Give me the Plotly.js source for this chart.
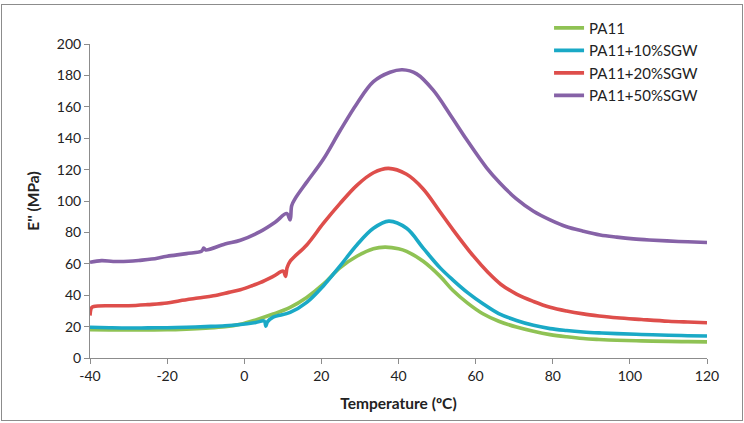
<!DOCTYPE html>
<html>
<head>
<meta charset="utf-8">
<script src="https://cdn.plot.ly/plotly-3.0.1.min.js"></script>
<style>
html,body{margin:0;padding:0;background:#fff;}
#chart{width:744px;height:423px;}
#frame{position:absolute;left:1px;top:4px;width:740px;height:415px;border:1px solid #8c8c8c;pointer-events:none;}
</style>
</head>
<body>
<div id="chart"></div>
<div id="frame"></div>
<script>
// Temperature (°C) and loss modulus E'' (MPa)
const seriesNames = ["PA11", "PA11+10%SGW", "PA11+20%SGW", "PA11+50%SGW"];

const tPA11 = [-40,-35,-30,-25,-20,-15,-10,-5,-1,3,7.5,11.9,16.2,20.5,24.8,29.2,33.5,36.5,40,42.1,46.4,50.8,54.2,58,62,66,70.6,75,79.3,83.6,87.9,92,96.6,103,110,115,120];
const ePA11 = [18,17.9,17.8,17.9,18,18.4,19,19.9,21.5,24.3,28,32.3,38.6,47,57.4,64.8,69.6,70.6,69.6,67.9,61.6,52,42.8,34.8,28,23.4,19.7,17,14.9,13.5,12.4,11.8,11.3,10.9,10.6,10.4,10.3];

const t10 = [-40,-35,-30,-25,-20,-15,-10,-5,-1,3,5.2,5.6,6.0,7.5,11.9,16.2,20.5,24.8,29.2,33.5,37.5,42.1,46.4,50.8,54.2,58,62,66,70.6,75,79.3,83.6,87.9,92,96.6,103,110,115,120];
const e10 = [19.6,19.3,19.1,19.2,19.3,19.6,20,20.5,21.3,22.6,23.5,20.3,23,26,29,35.4,45.9,58.5,72,82.6,87.2,82.6,70,57.4,49.5,41.5,34.4,28.3,23.9,20.8,18.7,17.5,16.6,16,15.5,15,14.5,14.2,14];

const t20 = [-40,-39.6,-39,-35,-30,-25,-20,-16.7,-12,-8,-4,-1,2,4.1,7.5,10.1,10.7,11.1,11.9,16.2,20.5,24.8,29.2,33.5,37.4,42.1,46.4,50.8,54.2,59.4,63.3,66.5,70.6,75,79.3,83.6,87.9,92,96.6,103,110,115,120];
const e20 = [27,32,32.8,33.3,33.3,34,35,36.5,38.2,39.6,41.8,43.5,46,48,52,55.3,52,57.5,61.6,72,85.7,98.3,110,118,120.8,117,107.7,93,81.5,65,54.3,47,40.7,36,32.3,29.9,28.1,26.8,25.6,24.5,23.4,22.9,22.5];

const t50 = [-40,-37,-34,-30,-27,-24,-20,-15,-11,-10.5,-10,-5,-1,4.1,8,11,11.9,12.3,13.2,16.2,20.5,24.8,29.2,33.5,37.8,41,44.7,49,53.4,57.7,62.9,66.3,70.5,75,79.3,83.6,87.9,92.3,96.6,100.9,105,109.6,115,120];
const e50 = [61,62,61.5,61.6,62.2,63,64.8,66.5,68.2,70,68.8,72.6,75,80.5,86.5,92,88,97,101.5,112,126.6,144.6,162,176,182,183.6,181,170.6,155,139,121,111.5,101.5,93.5,88,83.6,80.8,78.4,77,75.9,75.2,74.6,74,73.6];

const xTicks = [-40,-20,0,20,40,60,80,100,120];
const yTicks = [0,20,40,60,80,100,120,140,160,180,200];
const colors = ["#8FC254", "#1AA9C6", "#DE4E4B", "#8662A7"];

const xs = [tPA11, t10, t20, t50];
const ys = [ePA11, e10, e20, e50];

const traces = seriesNames.map((n, i) => ({
  type: "scatter", mode: "lines", name: n,
  x: xs[i], y: ys[i],
  line: {color: colors[i], width: 3.6, shape: "spline", smoothing: 1},
  legendgroup: "g" + i
}));

const font = "Lato, 'Open Sans', sans-serif";
const layout = {
  width: 744, height: 423,
  margin: {l: 90, r: 37, t: 39.5, b: 65},
  paper_bgcolor: "#fff", plot_bgcolor: "#fff",
  font: {family: font, size: 13.5, color: "#222"},
  showlegend: true,
  legend: {x: 0.744, y: 1.103, xanchor: "left", yanchor: "top",
           bgcolor: "rgba(0,0,0,0)", tracegroupgap: 0,
           font: {family: font, size: 15, color: "#222"}},
  xaxis: {range: [-40, 120], tickmode: "array", tickvals: xTicks,
          ticktext: xTicks.map(String),
          showgrid: false, zeroline: false, showline: true, linecolor: "#8c8c8c", linewidth: 1,
          ticks: "outside", ticklen: 5, tickcolor: "#8c8c8c",
          tickfont: {family: font, size: 14, color: "#222"},
          title: {text: "<b>Temperature (ºC)</b>", standoff: 15, font: {family: font, size: 15.5, color: "#222"}}},
  yaxis: {range: [0, 200], tickmode: "array", tickvals: yTicks,
          ticktext: yTicks.map(String),
          showgrid: false, zeroline: false, showline: true, linecolor: "#8c8c8c", linewidth: 1,
          ticks: "outside", ticklen: 5, tickcolor: "#8c8c8c",
          tickfont: {family: font, size: 14, color: "#222"},
          title: {text: "<b>E'' (MPa)</b>", standoff: 13, font: {family: font, size: 15.5, color: "#222"}}}
};

Plotly.newPlot("chart", traces, layout, {displayModeBar: false, staticPlot: true});
</script>
</body>
</html>
